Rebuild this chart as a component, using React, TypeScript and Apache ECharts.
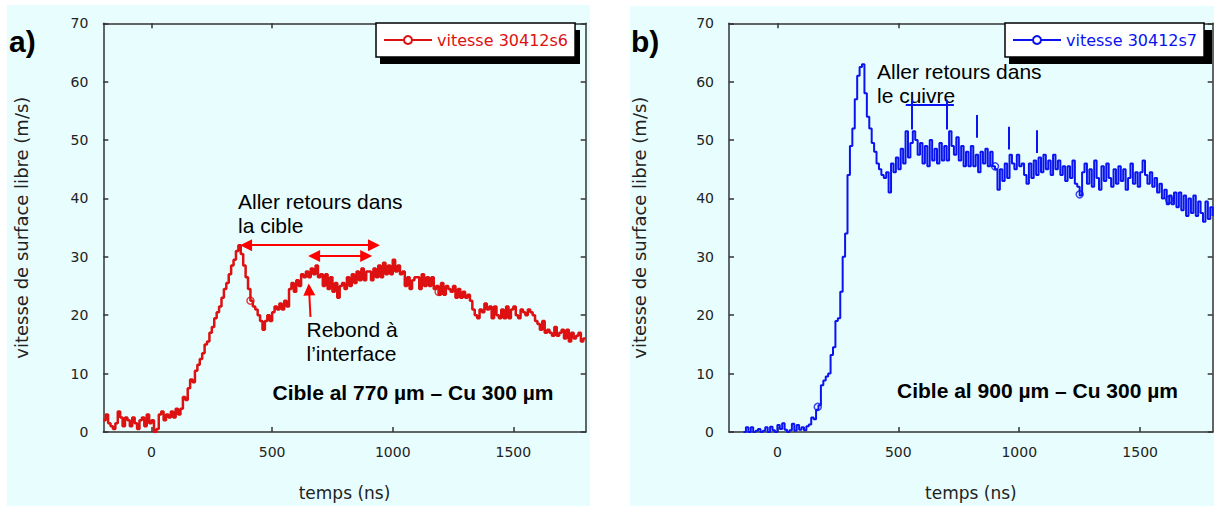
import React, { useEffect, useRef } from "react";
import * as echarts from "echarts";

// ---------- axes ----------
const X_MIN = -200;
const X_MAX = 1800;
const X_TICKS = [0, 500, 1000, 1500];
const Y_MIN = 0;
const Y_MAX = 70;
const Y_STEP = 10;
const X_NAME = "temps (ns)";
const Y_NAME = "vitesse de surface libre (m/s)";

// ---------- series a) (red) ----------
const NAME_A = "vitesse 30412s6";
const A_T0 = -200; // ns, first sample
const A_DT = 10; // ns, sampling step
const A_V = [
  2, 3, 1.5, 1, 0.5, 1.5, 3.5, 2.5, 1, 2.5, 2, 1, 2.5, 1.5, 0.5, 2, 2.5, 1, 3, 1.5,
  2, 0, 0.5, 3, 3.5, 2, 3, 2.5, 3.5, 2.5,
  4, 3, 4, 6, 5.5, 7.5, 9, 8.5, 10.5, 11.5,
  12.5, 13.5, 15, 15.5, 17, 18, 19.5, 20.5, 21.5, 23,
  24.5, 25.5, 27, 28.5, 29.5, 31, 32, 30.5, 28.5, 26.5,
  24.5, 22.5, 21.5, 21, 20, 19, 17.5, 19, 20, 19,
  20.5, 21.5, 21, 22, 21, 22.5, 21.5, 24.5, 25.5, 24,
  26, 25, 27, 26.5, 27.5, 26.5, 28, 27, 28.5, 26.5,
  27, 25, 27, 24.5, 26.5, 24, 25.5, 23, 25, 25.5,
  24.5, 26.5, 25, 27, 25.5, 27.5, 26, 28, 26, 27.5,
  27.5, 26, 28, 26.5, 28.5, 26.5, 29, 27, 28.5, 27,
  29.5, 27.5, 28.5, 27, 27.5, 25, 26.5, 24.5, 26, 26.5,
  26.5, 24.5, 27, 25, 26.5, 25, 26.5, 24.5, 25, 23.5,
  25.5, 23.5, 25, 24.5, 24, 25, 23, 24.5, 23, 24,
  23, 23.5, 22.5, 21, 20, 19.5, 21, 20.5, 22, 21,
  21.5, 19.5, 21.5, 20, 19.5, 21, 19.5, 21.5, 19.5, 21,
  21.5, 20, 19.5, 21, 20.5, 20, 21, 20.5, 20, 19,
  18.5, 17.5, 19, 17, 17.5, 17, 16.5, 18, 16.5, 17,
  17.5, 16, 17.5, 15.5, 17, 16, 16.5, 17, 15.5, 16,
  16,
];
const A_MARKERS = [
  [410, 22.5],
  [1190, 24],
];

// ---------- series b) (blue) ----------
const NAME_B = "vitesse 30412s7";
const B_T0 = -140;
const B_DT = 10;
const B_V = [
  0, 0.8, 0, 0.8, 0, 0.2, 0.5, 0, 0.2, 0.8,
  0, 0.9, 0.3, 0, 1.2, 0.5, 1.5, 0.4, 0, 0.3,
  1.4, 0.2, 1.2, 0.4, 0.8, 0.3, 1.0, 1.3, 2.5, 2.2,
  3.8, 4.6, 8, 8.8, 9.5, 10, 13.2, 14.5, 19, 19.5,
  24, 30, 34, 44, 49, 52, 57, 61, 62.5, 63,
  58, 54, 52, 49.5, 48, 46, 45, 44, 43.5, 44.5,
  41, 46, 44.5, 47, 45, 48.5, 46, 51.5, 47, 49.5,
  51.5, 50, 47.5, 49.5, 46, 49, 45.5, 50, 46.5, 48.5,
  46, 49.5, 46.5, 49, 46.5, 51.5, 49, 47.5, 50.5, 46.5,
  49, 45.5, 48, 45.5, 49, 45.5, 47.5, 44.5, 48, 46,
  48.5, 45.5, 48, 45.5, 45, 41.5, 45, 43, 46, 43.5,
  47.5, 46, 45, 47.5, 45.5, 46, 44, 42.5, 46, 43.5,
  46.5, 44, 47, 44.5, 47.5, 45, 46.5, 44, 47.5, 45,
  46.5, 44, 45.5, 43, 45.5, 43.5, 46.5, 42.5, 42, 40.5,
  44.5, 46, 42.5, 45, 42, 46.5, 43.5, 41.5, 45.5, 43,
  46, 43.5, 42, 45, 42.5, 45.5, 43, 45, 41.5, 43.5,
  46, 42.5, 44.5, 42, 44.5, 46.5, 44, 42.5, 44.5, 42,
  43.5, 41, 42.5, 40, 41.5, 39, 40.5, 39, 41, 38.5,
  41, 38, 40.5, 37, 40, 37.5, 40.5, 37, 39.5, 37.5,
  36, 39.5, 36.5, 38.5, 37,
];
const B_MARKERS = [
  [167, 4.3],
  [900, 45.5],
  [1250, 40.7],
  [1620, 39.8],
];

// ---------- annotations (data coordinates) ----------
const A_DOUBLE_ARROWS = [
  [[392, 32], [922, 32]],
  [[674, 30.15], [890, 30.15]],
];
const A_POINTER = [[659, 19.7], [653, 24.4]];
const B_MARKS = [
  [[531, 56.05], [730, 56.05]],
  [[555, 56.9], [555, 51.8]],
  [[701, 56.9], [701, 51.8]],
  [[825, 54.3], [825, 50.4]],
  [[955, 52.3], [955, 48.4]],
  [[1071, 51.7], [1071, 47.8]],
];

const TXT_A_ARROWS = "Aller retours dans\nla cible";
const TXT_A_REBOND = "Rebond à\nl’interface";
const TXT_A_CAPTION = "Cible al 770 µm – Cu 300 µm";
const TXT_B_ARROWS = "Aller retours dans\nle cuivre";
const TXT_B_CAPTION = "Cible al 900 µm – Cu 300 µm";

const RED = "#dd1111";
const BLUE = "#0a14f0";
const BG = "#e8fdfd";
const AXIS = "#333";
const LABEL_FONT = "DejaVu Sans";
const ANNOT_FONT = '"Liberation Sans", Arial, sans-serif';

function toPairs(t0: number, dt: number, v: number[]) {
  return v.map((y, i) => [t0 + i * dt, y]);
}

function xAxes(grid: number) {
  const line = { show: true, onZero: false, lineStyle: { color: AXIS, width: 1.5 } };
  const tick = { show: true, inside: true, length: 5, customValues: X_TICKS, lineStyle: { color: AXIS, width: 1.5 } };
  return [
    {
      type: "value",
      gridIndex: grid,
      position: "bottom",
      min: X_MIN,
      max: X_MAX,
      name: X_NAME,
      nameLocation: "middle",
      nameGap: 52,
      nameTextStyle: { fontFamily: LABEL_FONT, fontSize: 17, color: "#222" },
      axisLine: line,
      axisTick: tick,
      axisLabel: {
        customValues: X_TICKS,
        margin: 13,
        fontFamily: LABEL_FONT,
        fontSize: 14,
        color: "#222",
        formatter: (v: number) => String(v),
      },
      splitLine: { show: false },
    },
    {
      type: "value",
      gridIndex: grid,
      position: "top",
      min: X_MIN,
      max: X_MAX,
      axisLine: line,
      axisTick: tick,
      axisLabel: { show: false },
      splitLine: { show: false },
    },
  ];
}

function yAxes(grid: number, gap: number) {
  const line = { show: true, onZero: false, lineStyle: { color: AXIS, width: 1.5 } };
  const tick = { show: true, inside: true, length: 5, lineStyle: { color: AXIS, width: 1.5 } };
  return [
    {
      type: "value",
      gridIndex: grid,
      position: "left",
      min: Y_MIN,
      max: Y_MAX,
      interval: Y_STEP,
      name: Y_NAME,
      nameLocation: "middle",
      nameGap: gap,
      nameTextStyle: { fontFamily: LABEL_FONT, fontSize: 18, color: "#222" },
      axisLine: line,
      axisTick: tick,
      axisLabel: { margin: 15, fontFamily: LABEL_FONT, fontSize: 14, color: "#222" },
      splitLine: { show: false },
    },
    {
      type: "value",
      gridIndex: grid,
      position: "right",
      min: Y_MIN,
      max: Y_MAX,
      interval: Y_STEP,
      axisLine: line,
      axisTick: tick,
      axisLabel: { show: false },
      splitLine: { show: false },
    },
  ];
}

function segs(list: number[][][], symbols: string[]) {
  return list.map((s) => [
    { coord: s[0], symbol: symbols[0] },
    { coord: s[1], symbol: symbols[1] },
  ]);
}

function legendOpt(name: string, left: number, color: string) {
  return {
    data: [name],
    left,
    top: 23,
    orient: "horizontal",
    backgroundColor: "#ffffff",
    borderColor: "#000",
    borderWidth: 1.5,
    borderRadius: 0,
    padding: [9, 7, 9, 7],
    itemWidth: 48,
    itemHeight: 10,
    selectedMode: false,
    textStyle: { color, fontFamily: LABEL_FONT, fontSize: 16 },
  };
}

function text(x: number, y: number, t: string, size: number, bold = false) {
  return {
    type: "text",
    x,
    y,
    z: 5,
    silent: true,
    style: {
      text: t,
      fontSize: size,
      fontFamily: ANNOT_FONT,
      fontWeight: bold ? "bold" : "normal",
      fill: "#000",
      lineHeight: Math.round(size * 1.14),
      align: "left",
      verticalAlign: "top",
    },
  };
}

export default function App() {
  const ref = useRef<HTMLDivElement>(null);

  useEffect(() => {
    if (!ref.current) return;
    const chart = echarts.init(ref.current, undefined, { renderer: "svg" });
    const option: any = {
      animation: false,
      grid: [
        { left: 103.3, top: 23.3, width: 482.4, height: 410, show: false },
        { left: 729, top: 23.3, width: 483.7, height: 410, show: false },
      ],
      xAxis: [...xAxes(0), ...xAxes(1)],
      yAxis: [...yAxes(0, 73), ...yAxes(1, 81)],
      legend: [legendOpt(NAME_A, 376, RED), legendOpt(NAME_B, 1005, BLUE)],
      series: [
        {
          name: NAME_A,
          type: "line",
          xAxisIndex: 0,
          yAxisIndex: 0,
          data: toPairs(A_T0, A_DT, A_V),
          step: "end",
          symbol: "emptyCircle",
          showSymbol: false,
          lineStyle: { color: RED, width: 2.5 },
          itemStyle: { color: RED },
          z: 2,
          markLine: {
            silent: true,
            symbolSize: 12,
            label: { show: false },
            lineStyle: { color: "#ff0000", width: 2, type: "solid" },
            emphasis: { disabled: true },
            data: [
              ...segs(A_DOUBLE_ARROWS, ["triangle", "triangle"]),
              [
                { coord: A_POINTER[0], symbol: "none" },
                { coord: A_POINTER[1], symbol: "triangle" },
              ],
            ],
          },
        },
        {
          name: "marqueurs s6",
          type: "scatter",
          xAxisIndex: 0,
          yAxisIndex: 0,
          data: A_MARKERS,
          symbol: "circle",
          symbolSize: 7,
          itemStyle: { color: "rgba(0,0,0,0)", borderColor: RED, borderWidth: 1.5 },
          z: 3,
        },
        {
          name: NAME_B,
          type: "line",
          xAxisIndex: 2,
          yAxisIndex: 2,
          data: toPairs(B_T0, B_DT, B_V),
          step: "end",
          symbol: "emptyCircle",
          showSymbol: false,
          lineStyle: { color: BLUE, width: 2 },
          itemStyle: { color: BLUE },
          z: 2,
          markLine: {
            silent: true,
            symbol: "none",
            label: { show: false },
            lineStyle: { color: BLUE, width: 2, type: "solid" },
            emphasis: { disabled: true },
            data: segs(B_MARKS, ["none", "none"]),
          },
        },
        {
          name: "marqueurs s7",
          type: "scatter",
          xAxisIndex: 2,
          yAxisIndex: 2,
          data: B_MARKERS,
          symbol: "circle",
          symbolSize: 7,
          itemStyle: { color: "rgba(0,0,0,0)", borderColor: BLUE, borderWidth: 1.5 },
          z: 3,
        },
      ],
      graphic: [
        { type: "rect", z: -10, silent: true, shape: { x: 7, y: 5, width: 583, height: 501 }, style: { fill: BG } },
        { type: "rect", z: -10, silent: true, shape: { x: 630, y: 6, width: 584, height: 500 }, style: { fill: BG } },
        { type: "rect", z: 3, silent: true, shape: { x: 380, y: 30, width: 200, height: 34 }, style: { fill: "#000" } },
        { type: "rect", z: 3, silent: true, shape: { x: 1009, y: 30, width: 203, height: 34 }, style: { fill: "#000" } },
        text(9, 24, "a)", 30, true),
        text(631, 24, "b)", 30, true),
        text(238, 189.5, TXT_A_ARROWS, 21),
        text(306.5, 317.5, TXT_A_REBOND, 21),
        text(272.5, 380.5, TXT_A_CAPTION, 21, true),
        text(877, 59.5, TXT_B_ARROWS, 21),
        text(897, 378, TXT_B_CAPTION, 21, true),
      ],
    };
    chart.setOption(option);
    return () => chart.dispose();
  }, []);

  return (
    <div
      ref={ref}
      style={{ position: "absolute", left: 0, top: 0, width: 1214, height: 506, background: "#ffffff" }}
    />
  );
}
